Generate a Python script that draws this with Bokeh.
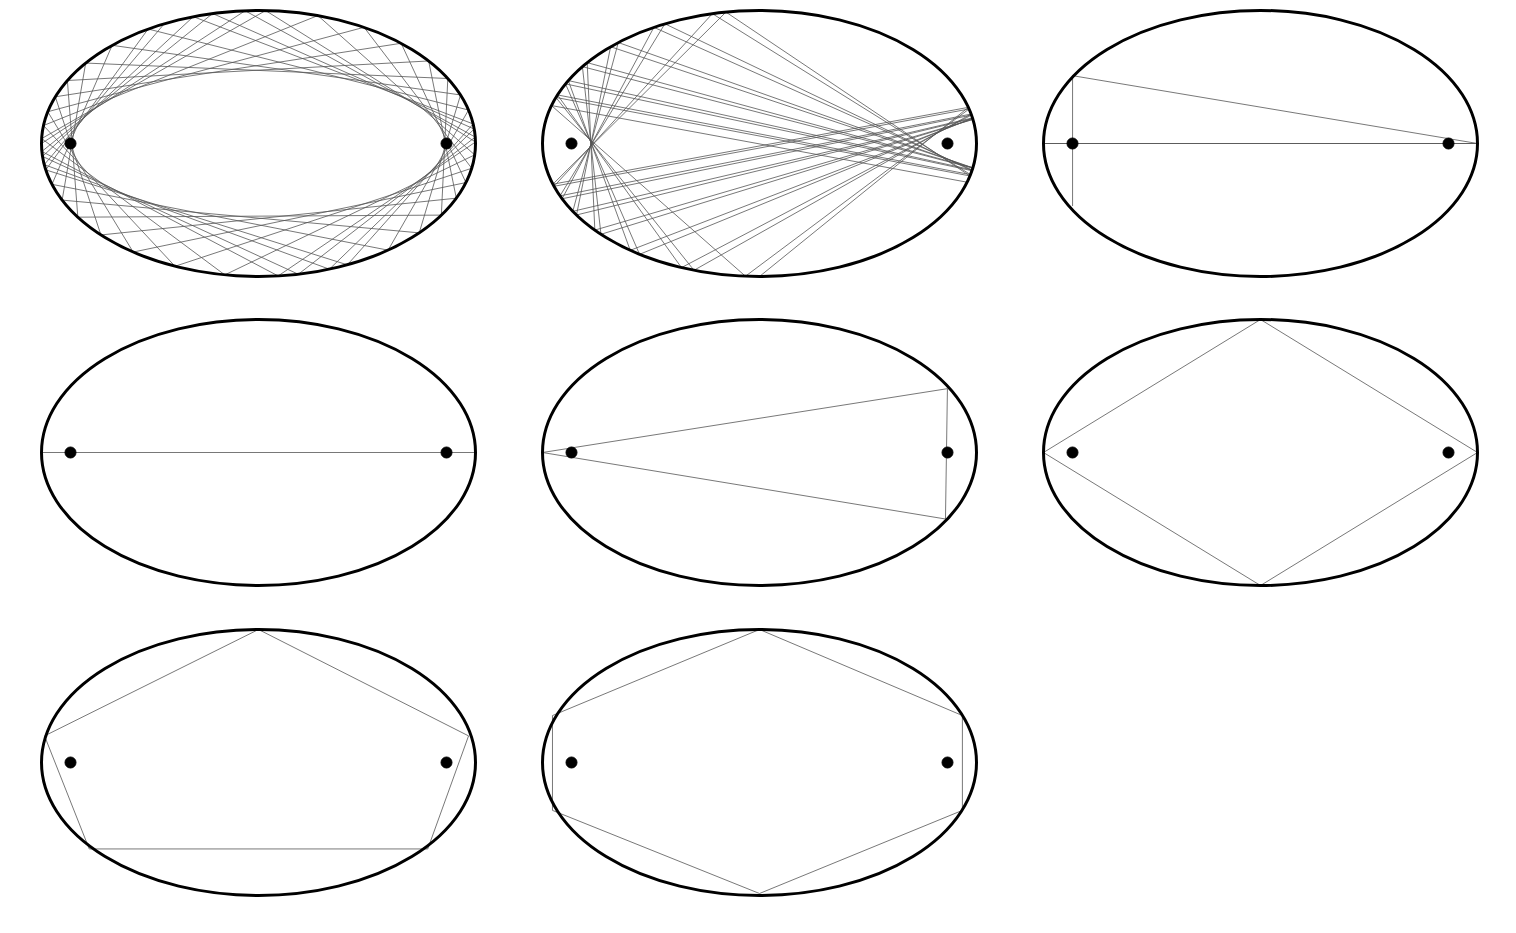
import numpy as np
from bokeh.plotting import figure
from bokeh.models import Range1d
from bokeh.embed import file_html
from bokeh.resources import INLINE

# panel layout (pixel coordinates of the reference)
centers_x = [258, 759, 1260, 258, 759, 1260, 258, 759]
centers_y = [143, 143, 143, 452, 452, 452, 762, 762]
semi_a = 217
semi_b = 133
focus_offset = 188

# billiard start point (u, v normalised to the semi-axes) and direction, for the dense panels
sim_start = {0: (-1.0, 0.0, 1.0, 0.652), 1: (0.0, -1.0, 1.0, 0.81)}
sim_bounces = {0: 46, 1: 40}

# hand-read paths (u, v normalised to semi-axes)
paths = {
    2: [(-0.866, -0.47), (-0.866, 0.51), (1.0, 0.0), (-1.0, 0.0), (1.0, 0.0)],
    3: [(-1.0, 0.0), (1.0, 0.0)],
    4: [(-1.0, 0.0), (0.866, 0.48), (0.857, -0.5), (-1.0, 0.0)],
    5: [(-1.0, 0.0), (0.0, 1.0), (1.0, 0.0), (0.0, -1.0), (-1.0, 0.0)],
    6: [(-0.986, 0.2), (0.0, 1.0), (0.968, 0.2), (0.78, -0.65), (-0.78, -0.65), (-0.986, 0.2)],
    7: [(-0.954, 0.353), (0.0, 1.0), (0.935, 0.353), (0.935, -0.36), (0.0, -0.985),
        (-0.954, -0.36), (-0.954, 0.353)],
}


def billiard(u, v, dx, dy, n):
    a, b = float(semi_a), float(semi_b)
    px, py = u * a, v * b
    d = np.array([dx * a, dy * a])
    d /= np.linalg.norm(d)
    pts = [(px, py)]
    for _ in range(n):
        A = d[0] ** 2 / a ** 2 + d[1] ** 2 / b ** 2
        B = 2 * (px * d[0] / a ** 2 + py * d[1] / b ** 2)
        t = -B / A
        px, py = px + t * d[0], py + t * d[1]
        nrm = np.array([px / a ** 2, py / b ** 2])
        nrm /= np.linalg.norm(nrm)
        d = d - 2 * np.dot(d, nrm) * nrm
        pts.append((px, py))
    return pts


p = figure(width=1500, height=917, x_range=Range1d(0, 1500), y_range=Range1d(917, 0),
           output_backend="svg", toolbar_location=None, min_border=0)
p.axis.visible = False
p.grid.visible = False
p.outline_line_color = None

for i, (cx, cy) in enumerate(zip(centers_x, centers_y)):
    if i in sim_start:
        pts = billiard(*sim_start[i], sim_bounces[i])
        xs = [cx + x for x, y in pts]
        ys = [cy - y for x, y in pts]
    else:
        xs = [cx + u * semi_a for u, v in paths[i]]
        ys = [cy - v * semi_b for u, v in paths[i]]
    p.line(xs, ys, line_color="#555555", line_width=0.8)
    p.ellipse(x=cx, y=cy, width=2 * semi_a, height=2 * semi_b, fill_color=None,
              line_color="black", line_width=3)
    p.scatter([cx - focus_offset, cx + focus_offset], [cy, cy], size=11, color="black")

open("out.html", "w").write(file_html(p, INLINE))
